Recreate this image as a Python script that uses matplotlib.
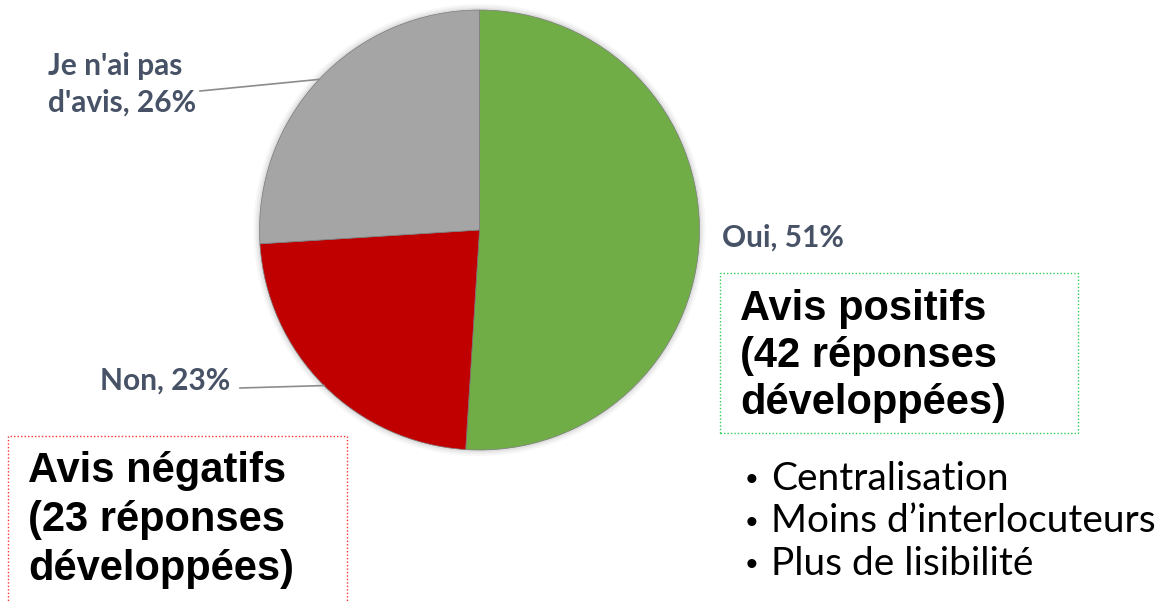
import numpy as np
import matplotlib.pyplot as plt
from matplotlib.patches import Rectangle

# données
categories = ['Oui', 'Non', "Je n'ai pas d'avis"]
valeurs = [51, 23, 26]
couleurs = ['#70AD47', '#C00000', '#A5A5A5']
etiquettes = ['Oui, 51%', 'Non, 23%', "Je n'ai pas\nd'avis, 26%"]
avis_positifs = ['Avis positifs', '(42 réponses', 'développées)']
avis_negatifs = ['Avis négatifs', '(23 réponses', 'développées)']
points_positifs = ['Centralisation', 'Moins d\u2019interlocuteurs', 'Plus de lisibilité']

W, H = 1163, 603
fig = plt.figure(figsize=(W / 100, H / 100), dpi=100)
ax = fig.add_axes([0, 0, 1, 1])

def Y(y):
    # coordonnées pixel (haut -> bas) vers données
    return H - y

cx, cy, r = 479.5, 230, 220
# ombre légère autour du camembert
for k, a in [(6, 0.03), (4, 0.04), (2, 0.06)]:
    ax.pie([1], colors=['#000000'], center=(cx, Y(cy)), radius=r + k,
           wedgeprops=dict(alpha=a, linewidth=0))
wedges, _ = ax.pie(valeurs, colors=couleurs, startangle=90, counterclock=False,
                   center=(cx, Y(cy)), radius=r,
                   wedgeprops=dict(linewidth=0.5, edgecolor='#7a7a7a'))

coul_etiq = '#475266'
pos_etiq = [(722, 247), (100, 390), (48, 112)]
for w, txt, (x, yb) in zip(wedges, etiquettes, pos_etiq):
    ax.text(x, Y(yb), txt, fontsize=21.5, fontweight='bold', family='Lato',
            color=coul_etiq, ha='left', va='baseline', linespacing=1.38)

# lignes de rappel
ang = np.deg2rad((wedges[2].theta1 + wedges[2].theta2) / 2)
ax.plot([cx + r * np.cos(ang), 200], [Y(cy) + r * np.sin(ang), Y(91)],
        color='#8C8C8C', lw=1.2)
ang = np.deg2rad((wedges[1].theta1 + wedges[1].theta2) / 2)
ax.plot([cx + r * np.cos(ang), 240], [Y(cy) + r * np.sin(ang), Y(388)],
        color='#8C8C8C', lw=1.2)

# encadrés
ax.add_patch(Rectangle((720, Y(433)), 358, 160, fill=False, edgecolor='#33CC55',
                       lw=1, linestyle=(0, (1, 1.5))))
ax.add_patch(Rectangle((8, Y(610)), 339, 174, fill=False, edgecolor='#FF3333',
                       lw=1, linestyle=(0, (1, 1.5))))

for i, ligne in enumerate(avis_positifs):
    ax.text(740, Y(320 + i * 47), ligne, fontsize=30, fontweight='bold',
            family='Liberation Sans', color='black', va='baseline')
for i, ligne in enumerate(avis_negatifs):
    ax.text(28, Y(482 + i * 49), ligne, fontsize=30, fontweight='bold',
            family='Liberation Sans', color='black', va='baseline')

for i, ligne in enumerate(points_positifs):
    yb = Y(490 + i * 42.5)
    ax.text(746, yb, '\u2022', fontsize=24, family='Liberation Sans', color='black',
            va='baseline')
    ax.text(771, yb, ligne, fontsize=28, family='Lato', color='black', va='baseline')

ax.set_xlim(0, W)
ax.set_ylim(0, H)
ax.set_aspect('auto')
ax.axis('off')
fig.savefig('out.png', dpi=100)
